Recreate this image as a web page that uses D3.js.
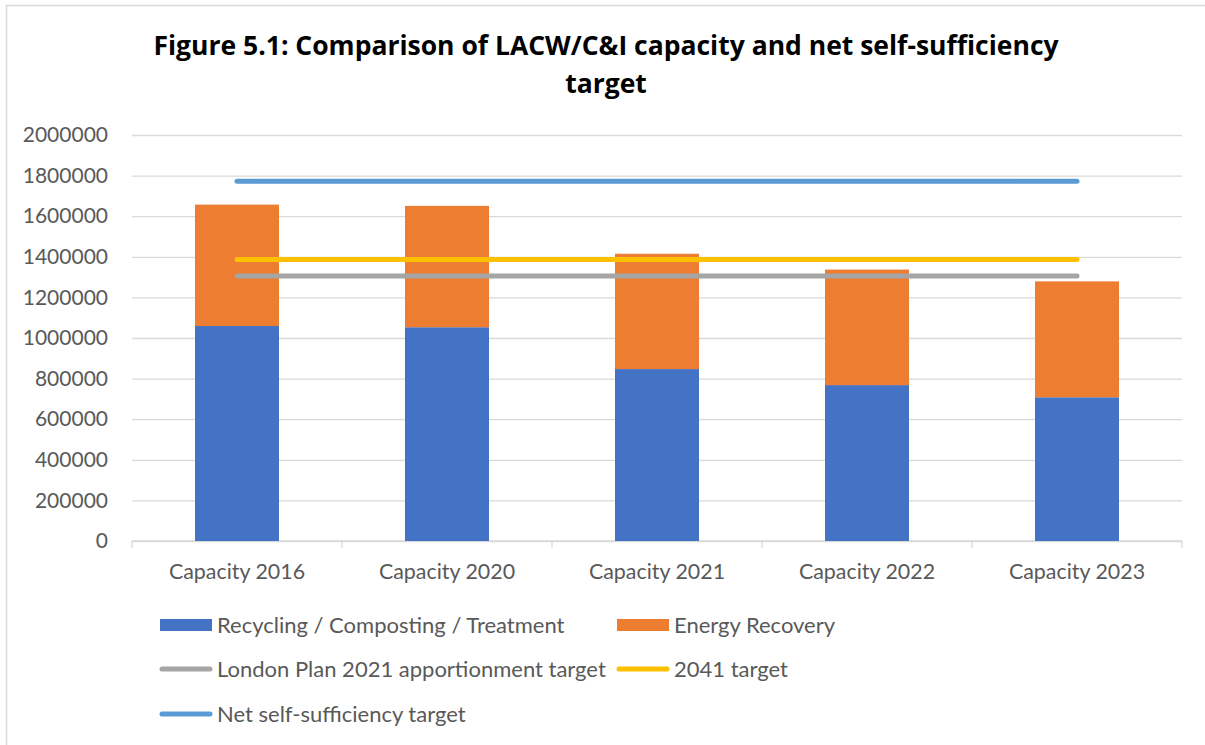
<!DOCTYPE html>
<html>
<head>
<meta charset="utf-8">
<script src="https://cdn.jsdelivr.net/npm/d3@7"></script>
<style>
  body { margin: 0; background: #fff; }
  text { font-family: Lato, "Open Sans", sans-serif; }
</style>
</head>
<body>
<script>
// Data
const categories = ["Capacity 2016", "Capacity 2020", "Capacity 2021", "Capacity 2022", "Capacity 2023"];
const recycling = [1059000, 1053000, 847000, 768000, 708000];
const energyRecovery = [598000, 598000, 568000, 569000, 571000];
const londonPlan = [1305000, 1305000, 1305000, 1305000, 1305000];
const target2041 = [1387000, 1387000, 1387000, 1387000, 1387000];
const netSelf = [1772000, 1772000, 1772000, 1772000, 1772000];
const yTicks = [0, 200000, 400000, 600000, 800000, 1000000, 1200000, 1400000, 1600000, 1800000, 2000000];

const W = 1205, H = 745;
const plot = { left: 132, right: 1182, top: 135, bottom: 541 };

const colors = {
  recycling: "#4472c4",
  energy: "#ed7d31",
  london: "#a5a5a5",
  t2041: "#ffc000",
  net: "#5b9bd5",
  grid: "#d9d9d9",
  text: "#595959"
};

const svg = d3.select("body").append("svg")
  .attr("width", W)
  .attr("height", H);

// chart frame (runs off the right and bottom edges)
svg.append("rect")
  .attr("x", 6.5).attr("y", 5.5)
  .attr("width", W + 20).attr("height", H + 20)
  .attr("fill", "none")
  .attr("stroke", colors.grid)
  .attr("stroke-width", 1.5);

// Title
const title = svg.append("text")
  .attr("text-anchor", "middle")
  .attr("font-weight", "bold")
  .attr("font-size", 26.5)
  .attr("fill", "#000")
  .style("font-family", "'Open Sans', Lato, sans-serif");
title.append("tspan").attr("x", 606).attr("y", 55)
  .text("Figure 5.1: Comparison of LACW/C&I capacity and net self-sufficiency");
title.append("tspan").attr("x", 606).attr("y", 93).text("target");

// Scales
const x = d3.scaleBand()
  .domain(categories)
  .range([plot.left, plot.right])
  .paddingInner(0.6)
  .paddingOuter(0.3);

const y = d3.scaleLinear()
  .domain([0, 2000000])
  .range([plot.bottom, plot.top]);

// Gridlines + y labels
const yaxis = d3.axisLeft(y)
  .tickValues(yTicks)
  .tickFormat(d3.format("d"))
  .tickSize(-(plot.right - plot.left))
  .tickPadding(24);

const gy = svg.append("g")
  .attr("transform", `translate(${plot.left},0)`)
  .call(yaxis);
gy.select(".domain").remove();
gy.selectAll(".tick line").attr("stroke", colors.grid).attr("stroke-width", 1.3);
gy.selectAll(".tick text")
  .attr("fill", colors.text)
  .attr("font-size", 21)
  .style("font-family", "Lato, sans-serif");

// x axis line and boundary ticks
svg.append("line")
  .attr("x1", plot.left).attr("x2", plot.right)
  .attr("y1", plot.bottom).attr("y2", plot.bottom)
  .attr("stroke", colors.grid).attr("stroke-width", 1.3);

const boundaries = categories.map((c) => x(c) + x.bandwidth() / 2 - x.step() / 2);
boundaries.push(plot.right);
svg.selectAll(".xtick")
  .data(boundaries)
  .join("line")
  .attr("class", "xtick")
  .attr("x1", (d) => d).attr("x2", (d) => d)
  .attr("y1", plot.bottom).attr("y2", plot.bottom + 7)
  .attr("stroke", colors.grid).attr("stroke-width", 1.3);

svg.selectAll(".xlabel")
  .data(categories)
  .join("text")
  .attr("class", "xlabel")
  .attr("x", (d) => x(d) + x.bandwidth() / 2)
  .attr("y", 579)
  .attr("text-anchor", "middle")
  .attr("font-size", 21.4)
  .attr("fill", colors.text)
  .text((d) => d);

// Stacked bars
const rows = categories.map((c, i) => ({ cat: c, recycling: recycling[i], energy: energyRecovery[i] }));
const stack = d3.stack().keys(["recycling", "energy"])(rows);
const barColor = { recycling: colors.recycling, energy: colors.energy };

svg.append("g")
  .selectAll("g")
  .data(stack)
  .join("g")
  .attr("fill", (s) => barColor[s.key])
  .selectAll("rect")
  .data((s) => s)
  .join("rect")
  .attr("x", (d) => x(d.data.cat))
  .attr("width", x.bandwidth())
  .attr("y", (d) => y(d[1]))
  .attr("height", (d) => y(d[0]) - y(d[1]));

// Target lines
const lineSeries = [
  { name: "London Plan 2021 apportionment target", values: londonPlan, color: colors.london },
  { name: "2041 target", values: target2041, color: colors.t2041 },
  { name: "Net self-sufficiency target", values: netSelf, color: colors.net }
];

const line = d3.line()
  .x((d, i) => x(categories[i]) + x.bandwidth() / 2)
  .y((d) => y(d));

svg.append("g")
  .selectAll("path")
  .data(lineSeries)
  .join("path")
  .attr("d", (d) => line(d.values))
  .attr("fill", "none")
  .attr("stroke", (d) => d.color)
  .attr("stroke-width", 5)
  .attr("stroke-linecap", "round");

// Legend
const legend = svg.append("g").attr("font-size", 22).attr("fill", colors.text);

function swatchRect(x0, yc, color, label) {
  legend.append("rect").attr("x", x0).attr("y", yc - 6).attr("width", 52).attr("height", 12).attr("fill", color);
  legend.append("text").attr("x", x0 + 57).attr("y", yc + 7.5).text(label);
}
function swatchLine(x0, yc, color, label) {
  legend.append("line").attr("x1", x0 + 2).attr("x2", x0 + 50).attr("y1", yc).attr("y2", yc)
    .attr("stroke", color).attr("stroke-width", 5).attr("stroke-linecap", "round");
  legend.append("text").attr("x", x0 + 57).attr("y", yc + 7.5).text(label);
}

swatchRect(160, 625, colors.recycling, "Recycling / Composting / Treatment");
swatchRect(617, 625, colors.energy, "Energy Recovery");
swatchLine(160, 669, colors.london, lineSeries[0].name);
swatchLine(617, 669, colors.t2041, lineSeries[1].name);
swatchLine(160, 714, colors.net, lineSeries[2].name);
</script>
</body>
</html>
